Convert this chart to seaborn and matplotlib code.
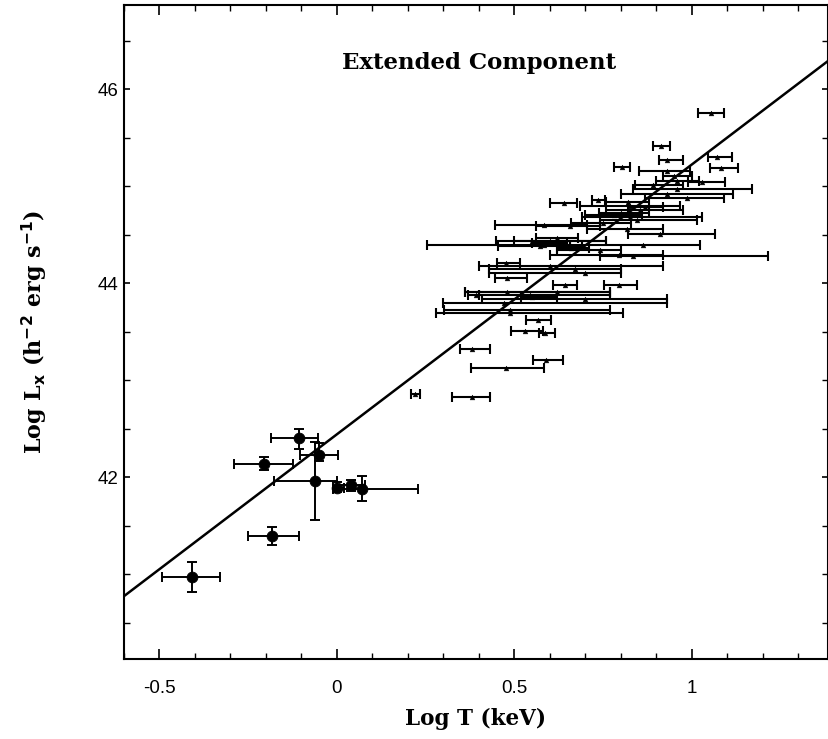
import numpy as np
import pandas as pd
import matplotlib
matplotlib.use("Agg")
import matplotlib.pyplot as plt
from matplotlib.ticker import MultipleLocator
import seaborn as sns

# ---- Groups (filled circles) ----
grp_logT = [-0.408, -0.106, -0.206, -0.051, -0.063, 0.000, 0.041, 0.071, -0.183]
grp_logT_lo = [-0.494, -0.187, -0.291, -0.103, -0.176, -0.010, 0.000, -0.010, -0.251]
grp_logT_hi = [-0.328, -0.053, -0.123, 0.002, 0.000, 0.020, 0.080, 0.228, -0.106]
grp_logL = [40.97, 42.40, 42.13, 42.23, 41.96, 41.89, 41.92, 41.88, 41.39]
grp_logL_lo = [40.81, 42.29, 42.07, 42.17, 41.56, 41.85, 41.86, 41.75, 41.30]
grp_logL_hi = [41.12, 42.50, 42.21, 42.35, 42.36, 41.95, 41.97, 42.01, 41.48]

# ---- Clusters (small triangles) ----
cl_logT = [1.055, 0.914, 0.803, 1.073, 1.082, 0.930, 0.930, 1.030, 0.890, 0.958,
           0.930, 0.986, 0.639, 0.737, 0.827, 0.855, 0.827, 0.846, 0.583, 0.658,
           0.817, 0.911, 0.550, 0.600, 0.583, 0.864, 0.742, 0.836, 0.794, 0.477,
           0.601, 0.672, 0.700, 0.479, 0.644, 0.794, 0.479, 0.620, 0.545, 0.700,
           0.470, 0.393, 0.489, 0.489, 0.568, 0.531, 0.587, 0.381, 0.590, 0.477,
           0.221, 0.381, 0.780, 0.800, 0.750, 0.870, 0.820, 0.600, 0.620, 0.660,
           0.960, 0.950, 0.550, 0.573]
cl_logT_lo = [1.017, 0.890, 0.781, 1.046, 1.052, 0.907, 0.851, 0.990, 0.840, 0.836,
              0.800, 0.870, 0.601, 0.718, 0.686, 0.760, 0.691, 0.742, 0.446, 0.560,
              0.705, 0.822, 0.450, 0.500, 0.254, 0.657, 0.620, 0.742, 0.600, 0.451,
              0.400, 0.430, 0.430, 0.446, 0.610, 0.752, 0.360, 0.360, 0.400, 0.410,
              0.300, 0.370, 0.301, 0.280, 0.534, 0.491, 0.571, 0.346, 0.554, 0.379,
              0.210, 0.325, 0.700, 0.740, 0.660, 0.820, 0.760, 0.550, 0.560, 0.620,
              0.900, 0.920, 0.520, 0.455]
cl_logT_hi = [1.092, 0.938, 0.827, 1.115, 1.132, 0.975, 0.996, 1.094, 0.976, 1.170,
              1.118, 1.090, 0.677, 0.756, 0.968, 0.976, 1.029, 1.014, 0.705, 0.742,
              0.920, 1.066, 0.760, 0.760, 0.657, 1.023, 0.800, 1.216, 0.920, 0.517,
              0.920, 0.800, 0.800, 0.536, 0.677, 0.846, 0.770, 0.770, 0.770, 0.930,
              0.930, 0.400, 0.771, 0.808, 0.603, 0.581, 0.616, 0.432, 0.637, 0.583,
              0.233, 0.432, 0.860, 0.880, 0.830, 0.920, 0.880, 0.650, 0.680, 0.710,
              1.020, 1.000, 0.620, 0.690]
cl_logL = [45.75, 45.41, 45.20, 45.30, 45.19, 45.27, 45.15, 45.04, 45.01, 44.97,
           44.92, 44.88, 44.82, 44.86, 44.79, 44.75, 44.68, 44.65, 44.60, 44.59,
           44.56, 44.51, 44.43, 44.43, 44.39, 44.39, 44.34, 44.28, 44.29, 44.21,
           44.18, 44.14, 44.10, 44.05, 43.98, 43.98, 43.91, 43.91, 43.88, 43.84,
           43.79, 43.88, 43.72, 43.69, 43.62, 43.51, 43.48, 43.32, 43.21, 43.12,
           42.86, 42.82, 44.70, 44.72, 44.62, 44.78, 44.83, 44.41, 44.46, 44.36,
           45.05, 45.10, 43.86, 44.38]

# ---- Fit line ----
fit_logT = [-0.6, 1.4]
fit_logL = [40.772, 46.332]

sns.set_style("ticks")
plt.rcParams["font.family"] = ["Liberation Sans", "DejaVu Sans"]
plt.rcParams["text.color"] = "black"
plt.rcParams["axes.labelcolor"] = "black"
plt.rcParams["xtick.color"] = "black"
plt.rcParams["ytick.color"] = "black"

fig = plt.figure(figsize=(8.29, 7.39), dpi=100)
ax = fig.add_axes([124 / 829, 1 - 659 / 739, 704 / 829, 654 / 739])

fit_df = pd.DataFrame({"logT": fit_logT, "logL": fit_logL})
sns.lineplot(data=fit_df, x="logT", y="logL", color="black", linewidth=1.8, ax=ax)

gx = np.array(grp_logT); gy = np.array(grp_logL)
gxe = [gx - np.array(grp_logT_lo), np.array(grp_logT_hi) - gx]
gye = [gy - np.array(grp_logL_lo), np.array(grp_logL_hi) - gy]
ax.errorbar(gx, gy, xerr=gxe, yerr=gye, fmt="none", ecolor="black",
            elinewidth=1.4, capsize=3.5, capthick=1.4)
sns.scatterplot(x=grp_logT, y=grp_logL, marker="o", s=60, color="black",
                edgecolor="black", ax=ax, zorder=5)

cx = np.array(cl_logT); cy = np.array(cl_logL)
cxe = [cx - np.array(cl_logT_lo), np.array(cl_logT_hi) - cx]
ax.errorbar(cx, cy, xerr=cxe, fmt="none", ecolor="black",
            elinewidth=1.5, capsize=3.5, capthick=1.5)
sns.scatterplot(x=cl_logT, y=cl_logL, marker="^", s=12, color="black",
                edgecolor="black", linewidth=0.3, ax=ax, zorder=5)

ax.set_xlim(-0.6, 1.3845)
ax.set_ylim(40.124, 46.866)
ax.xaxis.set_minor_locator(MultipleLocator(0.1))
ax.yaxis.set_minor_locator(MultipleLocator(0.5))
ax.set_xticks([-0.5, 0, 0.5, 1])
ax.set_xticklabels(["-0.5", "0", "0.5", "1"])
ax.set_yticks([42, 44, 46])
ax.set_yticklabels(["42", "44", "46"])

ax.tick_params(axis="x", which="major", direction="in", length=7, width=1.2,
               top=True, bottom=True, pad=15, labelsize=13.5)
ax.tick_params(axis="x", which="minor", direction="in", length=4, width=1.0,
               top=True, bottom=True)
ax.tick_params(axis="y", which="major", direction="in", length=4.5, width=1.2,
               left=True, right=True, pad=4, labelsize=13.5)
ax.tick_params(axis="y", which="minor", direction="in", length=4.5, width=1.0,
               left=True, right=True)
for sp in ax.spines.values():
    sp.set_linewidth(1.5)
    sp.set_color("black")

serif = ["DejaVu Serif"]
ax.set_xlabel("Log T (keV)", fontsize=15.5, fontweight="bold", family=serif, labelpad=8)
ax.set_ylabel(r"Log L$_{\mathbf{x}}$ (h$^{\mathbf{-2}}$ erg s$^{\mathbf{-1}}$)",
              fontsize=16, fontweight="bold", family=serif, labelpad=34)
ax.text(0.40, 46.27, "Extended Component", fontsize=16.5, fontweight="bold",
        family=serif, ha="center", va="center")

fig.savefig("out.png", dpi=100)
